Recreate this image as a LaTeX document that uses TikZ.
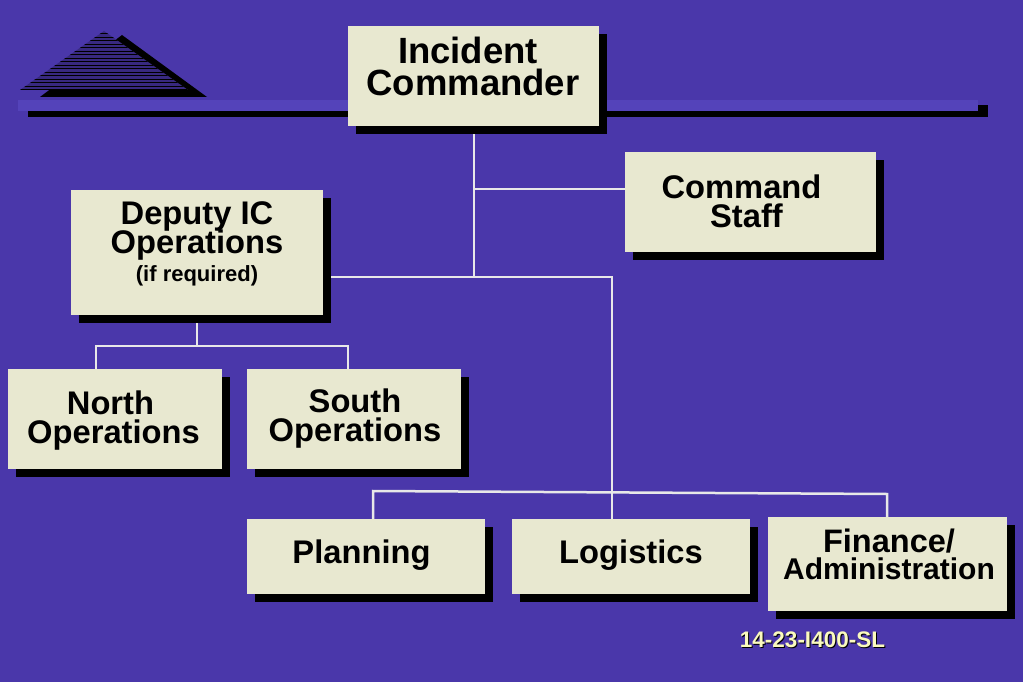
\documentclass[tikz,border=0pt]{standalone}
\usepackage{fontspec}
\setmainfont{Liberation Sans}
\usetikzlibrary{shadows}
\definecolor{slidebg}{RGB}{74,55,170}
\definecolor{slideband}{RGB}{84,67,186}
\definecolor{boxfill}{RGB}{232,232,208}
\definecolor{wirecol}{RGB}{232,232,232}
\definecolor{codecol}{RGB}{250,250,190}
\pgfdeclarelayer{base}
\pgfdeclarelayer{wires}
\pgfsetlayers{base,wires,main}
\tikzset{
    chartbox/.style={fill=boxfill,inner sep=0pt,outer sep=0pt,align=center,text depth=0pt,
        drop shadow={shadow xshift=8pt,shadow yshift=-8pt,opacity=1,fill=black},
        font=\bfseries\fontsize{32.7}{28.5}\selectfont},
    wire/.style={wirecol,line width=2.5pt},
}
\begin{document}
\begin{tikzpicture}[x=1pt,y=-1pt]
    \useasboundingbox (0,0) rectangle (1023,682);
    \begin{pgfonlayer}{base}
        \fill[slidebg] (0,0) rectangle (1023,682);
    \end{pgfonlayer}
    %logo
    \fill[black] (122,35) -- (207,97) -- (40,97) -- cycle;
    \begin{scope}
        \clip (104,31) -- (188,90) -- (20,90) -- cycle;
        \fill[slidebg!75!black] (0,25) rectangle (210,92);
        \foreach \y in {34,37.5,...,90}
            \draw[black,line width=1pt] (0,\y) -- (210,\y);
    \end{scope}
    %band
    \fill[black] (28,105) rectangle (988,117);
    \fill[slideband] (18,100) rectangle (978,111);
    %boxes
    \node[chartbox,minimum width=251pt,minimum height=100pt,text height=40pt,font=\bfseries\fontsize{36.5}{32}\selectfont] (commander) at (473,76) {Incident\hspace*{10pt}\\Commander};
    \node[chartbox,minimum width=251pt,minimum height=100pt,text height=50pt] (staff) at (750.5,202) {Command\hspace*{18pt}\\Staff\hspace*{8pt}};
    \node[chartbox,minimum width=252pt,minimum height=125pt,text height=58pt] (deputy) at (197,252.5) {Deputy IC\\[-3pt]Operations\\{\fontsize{22}{24}\selectfont (if required)}};
    \node[chartbox,minimum width=214pt,minimum height=100pt,text height=48pt] (north) at (115,419) {North\hspace*{9pt}\\Operations\hspace*{3pt}};
    \node[chartbox,minimum width=214pt,minimum height=100pt,text height=44pt] (south) at (354,419) {\hspace*{2pt}South\\\hspace*{2pt}Operations};
    \node[chartbox,minimum width=238pt,minimum height=75pt,text height=13pt] (planning) at (366,556.5) {Planning\hspace*{9pt}};
    \node[chartbox,minimum width=238pt,minimum height=75pt,text height=13pt] (logistics) at (631,556.5) {Logistics};
    \node[chartbox,minimum width=239pt,minimum height=94pt,text height=30pt,font=\bfseries\fontsize{30}{27}\selectfont] (finance) at (887.5,564) {\hspace*{3pt}{\fontsize{32.5}{27}\selectfont Finance/}\\\hspace*{3pt}Administration};
    %number
    \node[black,font=\bfseries\fontsize{22.5}{24}\selectfont] (codeback) at (813.5,640.5) {14-23-I400-SL};
    \node[codecol,font=\bfseries\fontsize{22.5}{24}\selectfont] (code) at (812.5,639.5) {14-23-I400-SL};
    %lines
    \coordinate (hub) at (474,277);
    \coordinate (staffjoin) at (474,189);
    \coordinate (staffend) at (625,189);
    \coordinate (deputyjoin) at (323,277);
    \coordinate (corner) at (612,277);
    \coordinate (opsleft) at (96,346);
    \coordinate (opsright) at (348,346);
    \coordinate (opsmid) at (197,346);
    \coordinate (planleft) at (373,491);
    \coordinate (finright) at (887,494);
    \begin{pgfonlayer}{wires}
        \draw[wire] (commander.south -| hub) -- (hub);
        \draw[wire] (staffjoin) -- (staffend);
        \draw[wire] (deputyjoin) -- (corner) -- (corner |- logistics.north);
        \draw[wire] (deputy.south) -- (opsmid);
        \draw[wire] (opsleft |- north.north) -- (opsleft) -- (opsright) -- (opsright |- south.north);
        \draw[wire] (planleft |- planning.north) -- (planleft) -- (finright) -- (finright |- finance.north);
    \end{pgfonlayer}
\end{tikzpicture}
\end{document}
